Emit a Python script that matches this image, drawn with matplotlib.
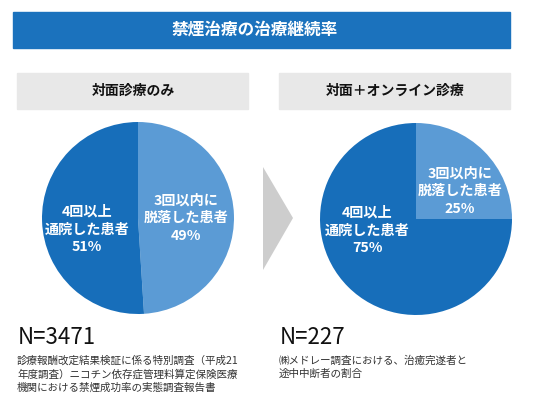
import matplotlib
matplotlib.use('Agg')
import matplotlib.pyplot as plt
from matplotlib.patches import Rectangle, Polygon

plt.rcParams['font.family'] = ['Noto Sans CJK JP', 'DejaVu Sans']

# data
title = '禁煙治療の治療継続率'
panel_titles = ['対面診療のみ', '対面＋オンライン診療']
slice_labels = ['3回以内に\n脱落した患者', '4回以上\n通院した患者']
dropped = [49, 25]
continued = [51, 75]
sample_sizes = [3471, 227]
sources = [
    '診療報酬改定結果検証に係る特別調査（平成21\n年度調査）ニコチン依存症管理料算定保険医療\n機関における禁煙成功率の実態調査報告書',
    '㈱メドレー調査における、治癒完遂者と\n途中中断者の割合',
]

dark_blue = '#176eba'
light_blue = '#5b9bd5'

W, H = 550, 413
fig = plt.figure(figsize=(W / 100, H / 100), dpi=100)

# background axis in pixel coordinates
bg = fig.add_axes([0, 0, 1, 1])
bg.set_xlim(0, W)
bg.set_ylim(H, 0)
bg.axis('off')

bg.add_patch(Rectangle((13, 12), 497, 36, color='#1b72bd'))
bg.text(255, 30, title, color='white', fontsize=12, fontweight='bold',
        ha='center', va='center')

box_x = [17, 279]
for i, name in enumerate(panel_titles):
    bg.add_patch(Rectangle((box_x[i], 73), 231, 36, color='#e8e8e8'))
    bg.text(box_x[i] + 116.5, 91, name, fontsize=10, fontweight='bold',
            ha='center', va='center', color='#111111')

# arrow between pies
bg.add_patch(Polygon([(263, 167), (293, 218), (263, 270)], closed=True,
                     color='#cdcdcd', lw=0))

centers = [(138, 218), (416, 219)]
r = 96
# label positions (axes units of each pie, -1..1)
label_pos = [
    [(0.50, 0.00), (-0.53, -0.12)],
    [(0.46, 0.29), (-0.51, -0.12)],
]

for i in range(2):
    cx, cy = centers[i]
    ax = fig.add_axes([(cx - r) / W, (H - cy - r) / H, 2 * r / W, 2 * r / H])
    ax.pie([dropped[i], continued[i]], colors=[light_blue, dark_blue],
           startangle=90, counterclock=False,
           wedgeprops=dict(linewidth=0))
    ax.set_xlim(-1, 1)
    ax.set_ylim(-1, 1)
    ax.set_aspect('equal')
    vals = [dropped[i], continued[i]]
    for j in range(2):
        x, y = label_pos[i][j]
        ax.text(x, y, '%s\n%d%%' % (slice_labels[j], vals[j]), color='white',
                fontsize=10.2, fontweight='bold', ha='center', va='center',
                linespacing=1.35)

    bg.text(box_x[i] + 1, 337, 'N=%d' % sample_sizes[i], fontsize=16,
            ha='left', va='center', color='#111111')
    bg.text(box_x[i] + 0, 355, sources[i], fontsize=7.6, ha='left', va='top',
            color='#333333', linespacing=1.4)

fig.savefig('out.png', dpi=100)
